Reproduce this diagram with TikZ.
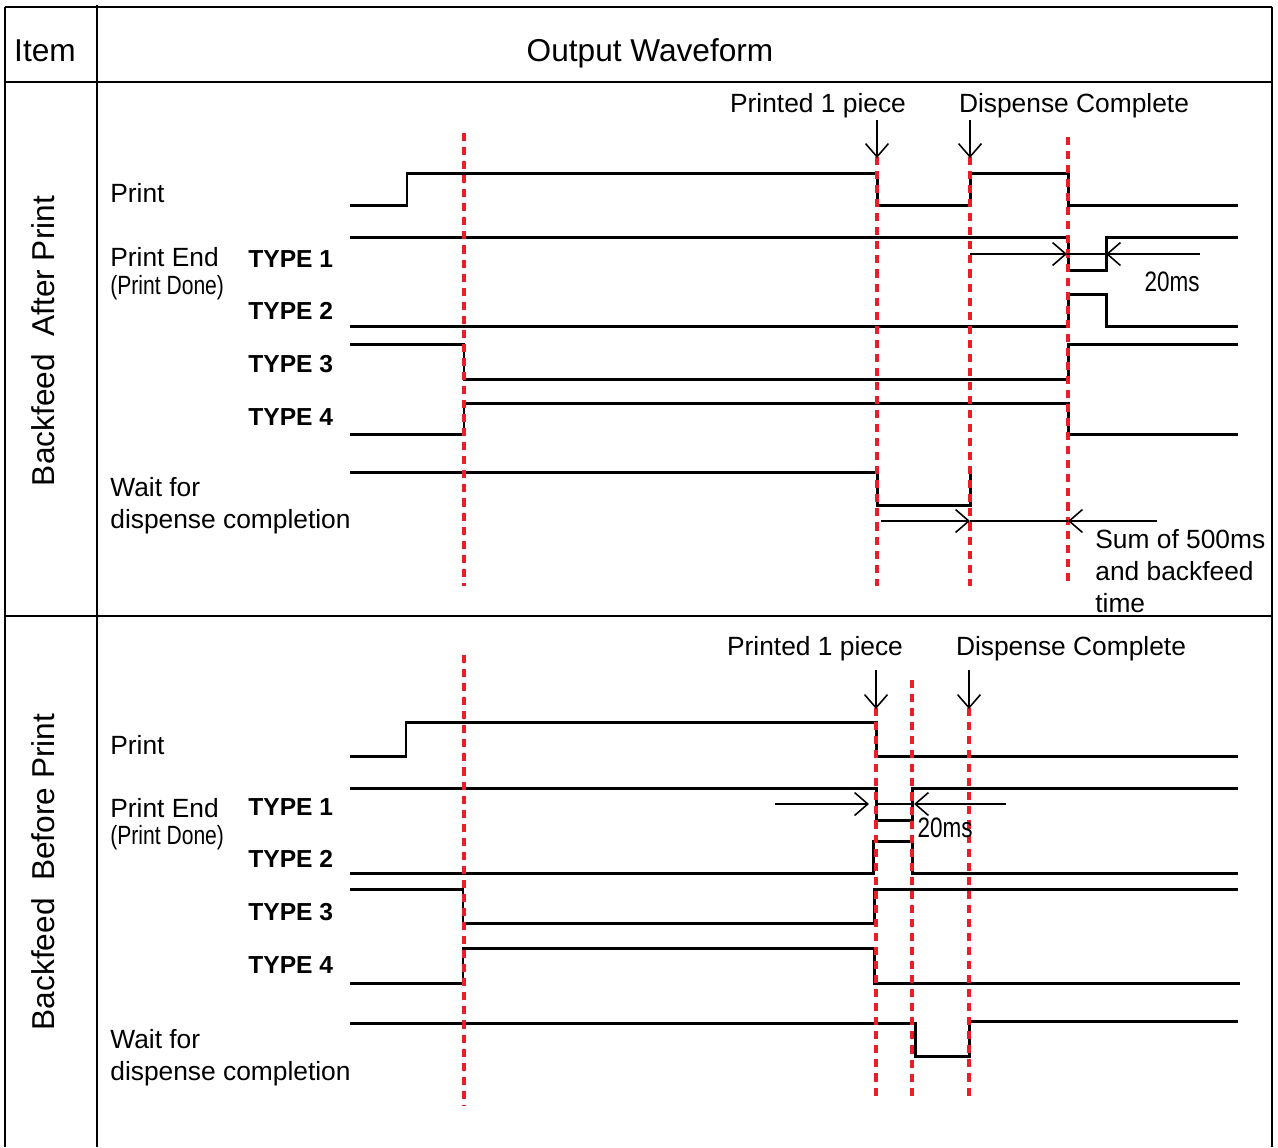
\documentclass[tikz,border=0pt]{standalone}
\usepackage{fontspec}
\setmainfont{Liberation Sans}
\newfontfamily\narrowfont[FakeStretch=0.8]{Liberation Sans}
\usetikzlibrary{arrows.meta}
\definecolor{cutred}{RGB}{235,30,40}

\begin{document}
\begin{tikzpicture}[
x=0.02cm, y=-0.02cm,
    >={Straight Barb[length=7.5pt,width=13pt]},
    wave/.style={line width=1.7pt},
    frame/.style={line width=1.1pt},
    cut/.style={cutred,line width=1.8pt,dash pattern=on 4.6pt off 3.4pt},
    dim/.style={line width=0.9pt},
    lbl/.style={inner sep=0pt,anchor=base west,font=\fontsize{15}{18.2}\selectfont,align=left},
    typ/.style={inner sep=0pt,anchor=base west,font=\fontsize{14}{16}\selectfont\bfseries},
    small/.style={inner sep=0pt,anchor=base west,font=\narrowfont\fontsize{15}{17}\selectfont},
    head/.style={inner sep=0pt,anchor=base,font=\fontsize{18}{20}\selectfont},
    side/.style={inner sep=0pt,rotate=90,font=\fontsize{18}{20}\selectfont}
]
\useasboundingbox (0,0) rectangle (1278,1147);

% 表格
\draw[frame] (5,7) -- (1272,7);
\draw[frame] (5,82) -- (1272,82);
\draw[frame] (5,616) -- (1272,616);
\draw[frame] (5,7) -- (5,1147);
\draw[frame] (97,5) -- (97,1147);
\draw[frame] (1272,7) -- (1272,1147);

\node[head] (item) at (45,61) {Item};
\node[head] (title) at (650,61) {Output Waveform};
\node[side] (after) at (43,341) {Backfeed\ \ After Print};
\node[side] (before) at (43,872) {Backfeed\ \ Before Print};

% 上: 打印后回退
\node[lbl] (print1) at (110,202) {Print};
\node[lbl] (end1) at (110,266) {Print End};
\node[small] (done1) at (110,294) {(Print Done)};
\node[typ] (t11) at (248,267) {TYPE 1};
\node[typ] (t12) at (248,319) {TYPE 2};
\node[typ] (t13) at (248,372) {TYPE 3};
\node[typ] (t14) at (248,425) {TYPE 4};
\node[lbl] (wait1) at (110,528) {Wait for\\dispense completion};

\draw[wave] (350,205) -- (407,205) -- (407,173) -- (877,173) -- (877,205) -- (970,205) -- (970,173) -- (1068,173) -- (1068,205) -- (1238,205);
\draw[wave] (350,237) -- (1068,237) -- (1068,270) -- (1106,270) -- (1106,237) -- (1238,237);
\draw[wave] (350,326) -- (1068,326) -- (1068,294) -- (1106,294) -- (1106,326) -- (1238,326);
\draw[wave] (350,344) -- (464,344) -- (464,379) -- (1068,379) -- (1068,344) -- (1238,344);
\draw[wave] (350,434) -- (464,434) -- (464,403) -- (1068,403) -- (1068,434) -- (1238,434);
\draw[wave] (350,472) -- (877,472) -- (877,505) -- (970,505) -- (970,470);

\foreach \x/\y in {464/133,877/157,970/157,1068/137}
    \draw[cut] (\x,\y) -- (\x,586);

\node[head,font=\fontsize{15}{17}\selectfont] (piece1) at (818,112) {Printed 1 piece};
\node[head,font=\fontsize{15}{17}\selectfont] (disp1) at (1074,112) {Dispense Complete};
\coordinate (p1a) at (877,120); \coordinate (p1b) at (877,158);
\coordinate (d1a) at (970,120); \coordinate (d1b) at (970,158);
\draw[dim,->] (p1a) -- (p1b);
\draw[dim,->] (d1a) -- (d1b);

% 20ms
\coordinate (m1a) at (970,254); \coordinate (m1b) at (1067,254);
\coordinate (m1c) at (1106,254); \coordinate (m1d) at (1200,254);
\draw[dim,->] (m1a) -- (m1b);
\draw[dim] (m1b) -- (m1c);
\draw[dim,->] (m1d) -- (m1c);
\node[small,anchor=base,font=\narrowfont\fontsize{16}{18}\selectfont] (ms1) at (1172,291) {20ms};

% 500ms
\coordinate (s1a) at (881,521); \coordinate (s1b) at (970,521);
\coordinate (s1c) at (1068,521); \coordinate (s1d) at (1157,521);
\draw[dim,->] (s1a) -- (s1b);
\draw[dim] (s1b) -- (s1c);
\draw[dim,->] (s1d) -- (s1c);
\node[lbl] (sum) at (1095,612) {Sum of 500ms\\and backfeed\\time};

% 下: 打印前回退
\node[lbl] (print2) at (110,754) {Print};
\node[lbl] (end2) at (110,817) {Print End};
\node[small] (done2) at (110,844) {(Print Done)};
\node[typ] (t21) at (248,815) {TYPE 1};
\node[typ] (t22) at (248,867) {TYPE 2};
\node[typ] (t23) at (248,920) {TYPE 3};
\node[typ] (t24) at (248,973) {TYPE 4};
\node[lbl] (wait2) at (110,1080) {Wait for\\dispense completion};

\draw[wave] (350,756) -- (406,756) -- (406,722) -- (876,722) -- (876,756) -- (1238,756);
\draw[wave] (350,788) -- (876,788) -- (876,820) -- (912,820) -- (912,788) -- (1238,788);
\draw[wave] (350,873) -- (873,873) -- (873,841) -- (912,841) -- (912,873) -- (1238,873);
\draw[wave] (350,889) -- (463,889) -- (463,923) -- (874,923) -- (874,889) -- (1238,889);
\draw[wave] (350,983) -- (463,983) -- (463,948) -- (874,948) -- (874,983) -- (1240,983);
\draw[wave] (350,1023) -- (915,1023) -- (915,1056) -- (969,1056) -- (969,1021) -- (1238,1021);

\draw[cut] (464,655) -- (464,1105);
\foreach \x/\y in {876/708,912/680,969/708}
    \draw[cut] (\x,\y) -- (\x,1098);

\node[head,font=\fontsize{15}{17}\selectfont] (piece2) at (815,655) {Printed 1 piece};
\node[head,font=\fontsize{15}{17}\selectfont] (disp2) at (1071,655) {Dispense Complete};
\coordinate (p2a) at (876,670); \coordinate (p2b) at (876,709);
\coordinate (d2a) at (969,670); \coordinate (d2b) at (969,709);
\draw[dim,->] (p2a) -- (p2b);
\draw[dim,->] (d2a) -- (d2b);

% 20ms
\coordinate (m2a) at (775,804); \coordinate (m2b) at (869,804);
\coordinate (m2c) at (876,804); \coordinate (m2d) at (912,804);
\coordinate (m2e) at (914,804); \coordinate (m2f) at (1006,804);
\draw[dim,->] (m2a) -- (m2b);
\draw[dim] (m2c) -- (m2d);
\draw[dim,->] (m2f) -- (m2e);
\node[small,anchor=base,font=\narrowfont\fontsize{16}{18}\selectfont] (ms2) at (945,837) {20ms};

\end{tikzpicture}
\end{document}
